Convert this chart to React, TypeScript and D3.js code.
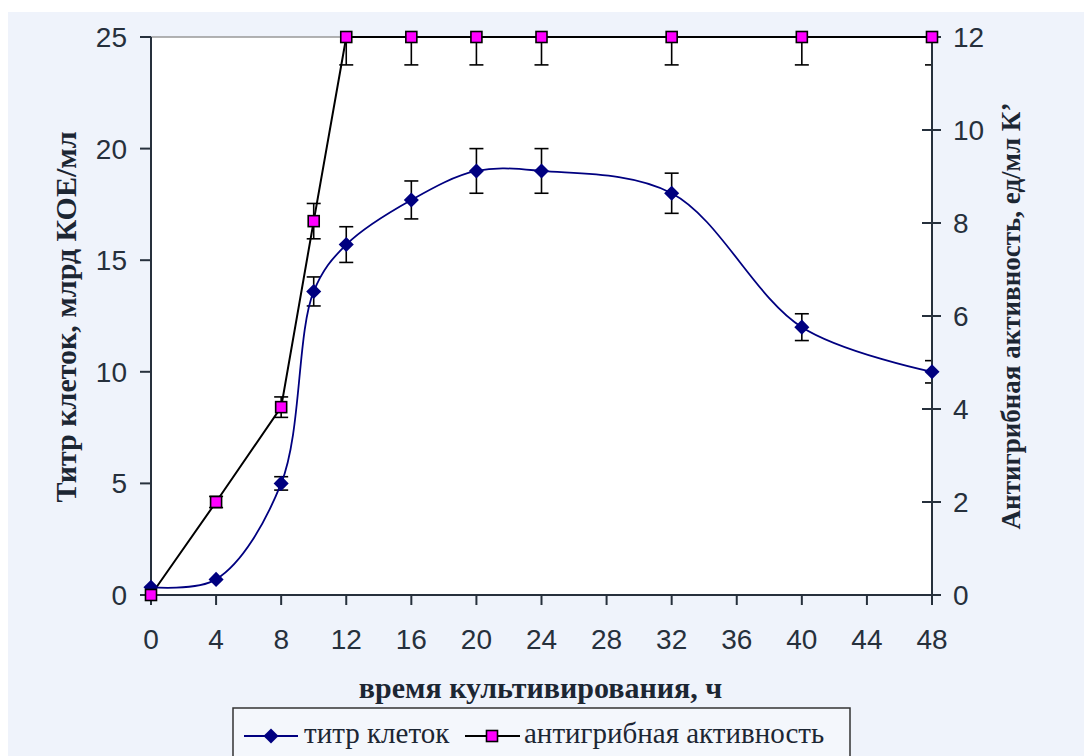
import React from "react";
import * as d3 from "d3";

const hours = [0, 4, 8, 10, 12, 16, 20, 24, 32, 40, 48];
const titer = [0.35, 0.7, 5.0, 13.6, 15.7, 17.7, 19.0, 19.0, 18.0, 12.0, 10.0];
const titerErr = [0, 0, 0.3, 0.65, 0.8, 0.85, 1.0, 1.0, 0.9, 0.6, 0.5];
const activity = [0, 2.0, 4.04, 8.04, 12, 12, 12, 12, 12, 12, 12];
const activityErr = [0, 0.12, 0.22, 0.38, 0.6, 0.6, 0.6, 0.6, 0.6, 0.6, 0.6];

const xTicks = [0, 4, 8, 12, 16, 20, 24, 28, 32, 36, 40, 44, 48];
const leftTicks = [0, 5, 10, 15, 20, 25];
const rightTicks = [0, 2, 4, 6, 8, 10, 12];

const W = 1084;
const H = 748;
// plot box in svg coords (svg sits at 8,8 in page)
const L = 143, R = 924, T = 29, B = 587;

const AXIS = "#26303c";
const SANS = "'Liberation Sans', Arial, sans-serif";
const SERIF = "'Liberation Serif', 'Times New Roman', serif";

export default function App() {
  const x = d3.scaleLinear().domain([0, 48]).range([L, R]);
  const yL = d3.scaleLinear().domain([0, 25]).range([B, T]);
  const yR = d3.scaleLinear().domain([0, 12]).range([B, T]);

  const titerLine = d3
    .line<number>()
    .x((_, i) => x(hours[i]))
    .y((d) => yL(d))
    .curve(d3.curveCatmullRom.alpha(0.5));

  const actLine = d3
    .line<number>()
    .x((_, i) => x(hours[i]))
    .y((d) => yR(d));

  const diamond = d3.symbol().type(d3.symbolDiamond2).size(145)();

  return (
    <svg width={W} height={H} style={{ display: "block" }}>
      <defs>
        <clipPath id="plotClip">
          <rect x={L} y={T} width={R - L} height={B - T} />
        </clipPath>
      </defs>
      <rect x={0} y={4} width={W} height={H - 4} fill="#eff3fb" />
      <rect x={L} y={T} width={R - L} height={B - T} fill="#ffffff" />
      <line x1={L} x2={R} y1={T} y2={T} stroke="#999" strokeWidth={1.5} />

      {/* error bars */}
      <g clipPath="url(#plotClip)" stroke="#000" strokeWidth={1.6}>
        {hours.map((h, i) =>
          titerErr[i] > 0 ? (
            <g key={"te" + i}>
              <line x1={x(h)} x2={x(h)} y1={yL(titer[i] - titerErr[i])} y2={yL(titer[i] + titerErr[i])} />
              <line x1={x(h) - 7} x2={x(h) + 7} y1={yL(titer[i] - titerErr[i])} y2={yL(titer[i] - titerErr[i])} />
              <line x1={x(h) - 7} x2={x(h) + 7} y1={yL(titer[i] + titerErr[i])} y2={yL(titer[i] + titerErr[i])} />
            </g>
          ) : null
        )}
        {hours.map((h, i) =>
          activityErr[i] > 0 ? (
            <g key={"ae" + i}>
              <line x1={x(h)} x2={x(h)} y1={yR(activity[i] - activityErr[i])} y2={yR(activity[i] + activityErr[i])} />
              <line x1={x(h) - 7} x2={x(h) + 7} y1={yR(activity[i] - activityErr[i])} y2={yR(activity[i] - activityErr[i])} />
              <line x1={x(h) - 7} x2={x(h) + 7} y1={yR(activity[i] + activityErr[i])} y2={yR(activity[i] + activityErr[i])} />
            </g>
          ) : null
        )}
      </g>

      {/* axes */}
      <g stroke={AXIS} strokeWidth={2}>
        <line x1={L} x2={L} y1={T} y2={B} />
        <line x1={R} x2={R} y1={T} y2={B} />
        <line x1={L} x2={R} y1={B} y2={B} />
        {leftTicks.map((t) => (
          <line key={"lt" + t} x1={L - 11} x2={L} y1={yL(t)} y2={yL(t)} />
        ))}
        {rightTicks.map((t) => (
          <line key={"rt" + t} x1={R - 10} x2={R + 9} y1={yR(t)} y2={yR(t)} />
        ))}
        {xTicks.map((t) => (
          <line key={"xt" + t} x1={x(t)} x2={x(t)} y1={B} y2={B + 10} />
        ))}
      </g>

      <g fontFamily={SANS} fontSize={28} fill={AXIS}>
        {leftTicks.map((t) => (
          <text key={"ll" + t} x={L - 24} y={yL(t)} dy="0.36em" textAnchor="end">
            {t}
          </text>
        ))}
        {rightTicks.map((t) => (
          <text key={"rl" + t} x={R + 21} y={yR(t)} dy="0.36em" textAnchor="start">
            {t}
          </text>
        ))}
        {xTicks.map((t) => (
          <text key={"xl" + t} x={x(t)} y={B + 54} textAnchor="middle">
            {t}
          </text>
        ))}
      </g>

      {/* series lines */}
      <path d={titerLine(titer) ?? ""} fill="none" stroke="#000080" strokeWidth={1.8} />
      <path d={actLine(activity) ?? ""} fill="none" stroke="#000" strokeWidth={2} />

      {hours.map((h, i) => (
        <path key={"d" + i} d={diamond ?? ""} transform={`translate(${x(h)},${yL(titer[i])})`} fill="#000080" />
      ))}
      {hours.map((h, i) => (
        <rect
          key={"s" + i}
          x={x(h) - 5.5}
          y={yR(activity[i]) - 5.5}
          width={11}
          height={11}
          fill="#ff00ff"
          stroke="#000"
          strokeWidth={1.6}
        />
      ))}

      {/* axis titles */}
      <g fontFamily={SERIF} fontWeight="bold" fill="#1c2633">
        <text x={(L + R) / 2 - 1} y={690} textAnchor="middle" fontSize={30}>
          время культивирования, ч
        </text>
        <text transform={`translate(68,309) rotate(-90)`} textAnchor="middle" fontSize={30}>
          Титр клеток, млрд КОЕ/мл
        </text>
        <text transform={`translate(1012,308) rotate(-90)`} textAnchor="middle" fontSize={27}>
          Антигрибная активность, ед/мл К’
        </text>
      </g>

      {/* legend */}
      <g>
        <rect x={225} y={700} width={617} height={60} fill="#f4f7fc" stroke="#333" strokeWidth={1.5} />
        <line x1={236} x2={290} y1={728} y2={728} stroke="#000080" strokeWidth={2} />
        <path d={diamond ?? ""} transform="translate(263,728)" fill="#000080" />
        <line x1={457} x2={512} y1={728} y2={728} stroke="#000" strokeWidth={2} />
        <rect x={478.5} y={722.5} width={11} height={11} fill="#ff00ff" stroke="#000" strokeWidth={1.6} />
        <g fontFamily={SERIF} fontSize={29} fill="#1c2633">
          <text x={296} y={735}>титр клеток</text>
          <text x={516} y={735}>антигрибная активность</text>
        </g>
      </g>
    </svg>
  );
}
